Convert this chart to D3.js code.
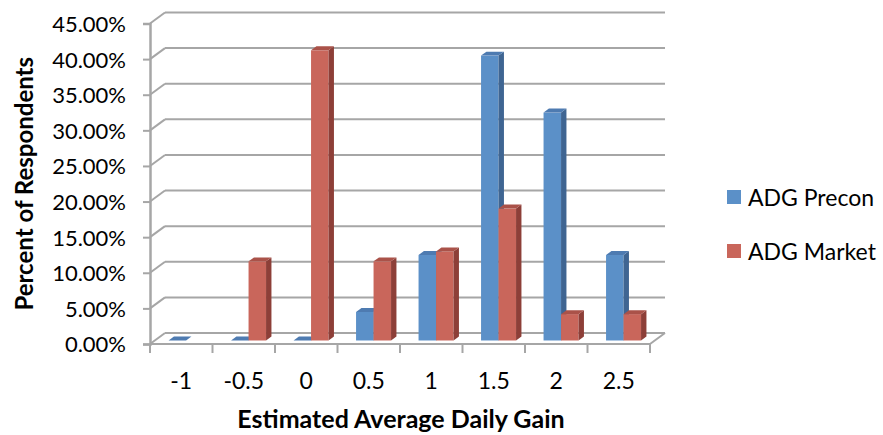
<!DOCTYPE html>
<html>
<head>
<meta charset="utf-8">
<script src="https://cdn.jsdelivr.net/npm/d3@7"></script>
<style>
  body { margin: 0; background: #ffffff; }
  svg { display: block; }
  text { font-family: Lato, "Open Sans", "DejaVu Sans", sans-serif; fill: #000; }
</style>
</head>
<body>
<svg id="chart" width="883" height="435"></svg>
<script>
// Estimated average daily gain (lb/day) buckets
const categories = ["-1", "-0.5", "0", "0.5", "1", "1.5", "2", "2.5"];
// Percent of respondents per bucket
const preconValues = [0, 0, 0, 4, 12, 40, 32, 12];
const marketValues = [null, 11.11, 40.74, 11.11, 12.5, 18.52, 3.7, 3.7];
const seriesNames = ["ADG Precon", "ADG Market"];
const yTickValues = [0, 5, 10, 15, 20, 25, 30, 35, 40, 45];

const svg = d3.select("#chart");

// plot frame (front plane) and the receding depth of the 3-D box
const plotLeft = 150, plotRight = 650, plotBottom = 344, plotTop = 23.5;
const DX = 15, DY = -11;           // back wall offset
const T1 = 0.32, T2 = 0.68;        // bar front / back position within the depth

const x = d3.scaleBand().domain(categories).range([plotLeft, plotRight]);
const xs = d3.scaleBand().domain(seriesNames).range([0, x.bandwidth()])
  .paddingInner(0).paddingOuter(0.786);
const y = d3.scaleLinear().domain([0, 45]).range([plotBottom, plotTop]);

const gridColor = "#a6a6a6";
const colors = {
  "ADG Precon": { front: "#5b90c8", side: "#3f6592", top: "#4e7bb1" },
  "ADG Market": { front: "#c9665b", side: "#8d3f38", top: "#aa5249" }
};

// back wall gridlines and left wall diagonals
const grid = svg.append("g").attr("stroke", gridColor).attr("stroke-width", 2).attr("fill", "none");
yTickValues.forEach(v => {
  grid.append("line")
    .attr("x1", plotLeft + DX).attr("y1", y(v) + DY)
    .attr("x2", plotRight + DX).attr("y2", y(v) + DY);
  grid.append("line")
    .attr("x1", plotLeft).attr("y1", y(v))
    .attr("x2", plotLeft + DX).attr("y2", y(v) + DY);
});
// floor front edge and right edge
grid.append("line").attr("x1", plotLeft).attr("y1", plotBottom).attr("x2", plotRight).attr("y2", plotBottom);
grid.append("line").attr("x1", plotRight).attr("y1", plotBottom).attr("x2", plotRight + DX).attr("y2", plotBottom + DY);
// category boundary ticks
d3.range(categories.length + 1).forEach(i => {
  const xv = plotLeft + i * x.step();
  grid.append("line").attr("x1", xv).attr("y1", plotBottom).attr("x2", xv).attr("y2", plotBottom + 9);
});

// value axis with ticks and percentage labels
const yAxis = d3.axisLeft(y)
  .tickValues(yTickValues)
  .tickFormat(d => d.toFixed(2) + "%")
  .tickSize(7)
  .tickPadding(17);
const yg = svg.append("g").attr("transform", `translate(${plotLeft},0)`).call(yAxis);
yg.select(".domain").attr("stroke", gridColor).attr("stroke-width", 2.5);
yg.selectAll(".tick line").attr("stroke", gridColor).attr("stroke-width", 2);
yg.selectAll(".tick text").style("font-size", "22px").attr("dy", "0.36em");

// category labels
const xAxis = d3.axisBottom(x).tickSize(0).tickPadding(0);
const xg = svg.append("g").attr("transform", `translate(0,${plotBottom})`).call(xAxis);
xg.select(".domain").remove();
xg.selectAll(".tick text").style("font-size", "23px").attr("y", 45).attr("dy", 0);

// 3-D columns
const bars = svg.append("g");
const ddx = (T2 - T1) * DX, ddy = (T2 - T1) * DY;
const rows = [];
categories.forEach((c, i) => {
  rows.push({ cat: c, series: "ADG Precon", value: preconValues[i] });
  rows.push({ cat: c, series: "ADG Market", value: marketValues[i] });
});
rows.filter(d => d.value !== null).forEach(d => {
  const x0 = x(d.cat) + xs(d.series) + T1 * DX;
  const x1 = x0 + xs.bandwidth();
  const yb = y(0) + T1 * DY;
  const yt = y(d.value) + T1 * DY;
  const col = colors[d.series];
  const g = bars.append("g");
  if (d.value > 0) {
    g.append("rect").attr("x", x0).attr("y", yt).attr("width", x1 - x0).attr("height", yb - yt)
      .attr("fill", col.front);
    g.append("path")
      .attr("d", `M${x1},${yt}L${x1 + ddx},${yt + ddy}L${x1 + ddx},${yb + ddy}L${x1},${yb}Z`)
      .attr("fill", col.side);
  }
  g.append("path")
    .attr("d", `M${x0},${yt}L${x1},${yt}L${x1 + ddx},${yt + ddy}L${x0 + ddx},${yt + ddy}Z`)
    .attr("fill", col.top);
});

// axis titles
svg.append("text")
  .attr("transform", `translate(33,${(plotTop + plotBottom) / 2}) rotate(-90)`)
  .attr("text-anchor", "middle")
  .style("font-size", "24px").style("font-weight", "bold")
  .text("Percent of Respondents");
svg.append("text")
  .attr("x", 401).attr("y", 428)
  .attr("text-anchor", "middle")
  .style("font-size", "25px").style("font-weight", "bold")
  .text("Estimated Average Daily Gain");

// legend
const legend = svg.append("g").attr("transform", "translate(727,190)");
seriesNames.forEach((s, i) => {
  const lg = legend.append("g").attr("transform", `translate(0,${i * 54})`);
  lg.append("rect").attr("width", 14).attr("height", 14).attr("fill", colors[s].front);
  lg.append("text").attr("x", 21).attr("y", 16)
    .style("font-size", "23px").text(s);
});
</script>
</body>
</html>
